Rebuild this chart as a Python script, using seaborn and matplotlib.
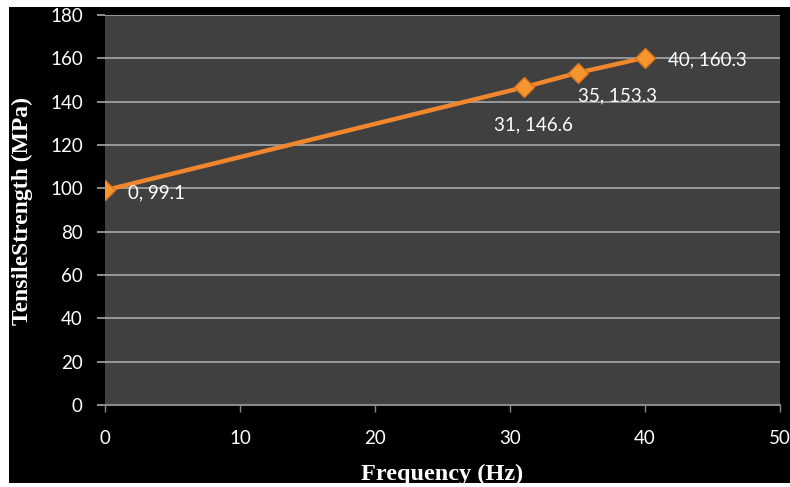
import matplotlib
matplotlib.use('Agg')
import matplotlib.pyplot as plt
import seaborn as sns
from matplotlib.patches import Rectangle

# data
frequency = [0, 31, 35, 40]
tensile_strength = [99.1, 146.6, 153.3, 160.3]
point_labels = ['0, 99.1', '31, 146.6', '35, 153.3', '40, 160.3']
# label offsets (pixels) relative to each point
label_dx = [23, -30, 0, 23]
label_dy = [-3, -38, -23, -2]

sns.set_style('dark', {'axes.facecolor': '#404040', 'grid.color': '#a8a8a8'})
plt.rcParams['font.family'] = ['Lato', 'DejaVu Sans']

W, H = 790, 487
fig = plt.figure(figsize=(W / 100, H / 100), dpi=100, facecolor='black')
ax = fig.add_axes([105 / W, 1 - 405 / H, 675 / W, 390 / H])

sns.lineplot(x=frequency, y=tensile_strength, ax=ax, color='#f0872e', linewidth=3.2,
             marker='D', markersize=10, markerfacecolor='#f5962f',
             markeredgecolor='#d9731e', markeredgewidth=1)

for x, y, lab, dx, dy in zip(frequency, tensile_strength, point_labels, label_dx, label_dy):
    ax.annotate(lab, (x, y), xytext=(dx, dy), textcoords='offset pixels',
                ha='left', va='center', color='white', fontsize=13.5)

ax.set_xlim(0, 50)
ax.set_ylim(0, 180)
ax.set_xticks(range(0, 51, 10))
ax.set_yticks(range(0, 181, 20))
ax.grid(axis='y', color='#a8a8a8', linewidth=1.2)
ax.grid(axis='x', visible=False)
ax.set_axisbelow(True)
for side in ['top', 'right', 'left']:
    ax.spines[side].set_visible(False)
ax.spines['bottom'].set_color('#8a8a8a')
ax.spines['bottom'].set_linewidth(1.5)
ax.tick_params(axis='y', colors='#a8a8a8', labelcolor='white', length=6, width=1.2,
               direction='out', labelsize=13.5, pad=10, left=True)
ax.tick_params(axis='x', colors='#8a8a8a', labelcolor='white', length=5, width=1,
               direction='out', labelsize=13.5, pad=13, bottom=True)
ax.set_xlabel('')
ax.set_ylabel('')

fig.text(22 / W, 1 - 211 / H, 'TensileStrength (MPa)', rotation=90, ha='center', va='center',
         color='white', fontsize=17, fontweight='bold', family='Liberation Serif')
fig.text(442.5 / W, 1 - 474 / H, 'Frequency (Hz)', ha='center', va='center',
         color='white', fontsize=17.5, fontweight='bold', family='Liberation Serif')

# white margins of the scanned figure
for (x0, y0, w, h) in [(0, 0, 9, H), (0, 0, W, 7), (0, 483, W, 4)]:
    fig.patches.append(Rectangle((x0 / W, 1 - (y0 + h) / H), w / W, h / H,
                                 transform=fig.transFigure, facecolor='white',
                                 edgecolor='none', zorder=10))

plt.savefig('out.png', dpi=100, facecolor='black')
plt.close()
